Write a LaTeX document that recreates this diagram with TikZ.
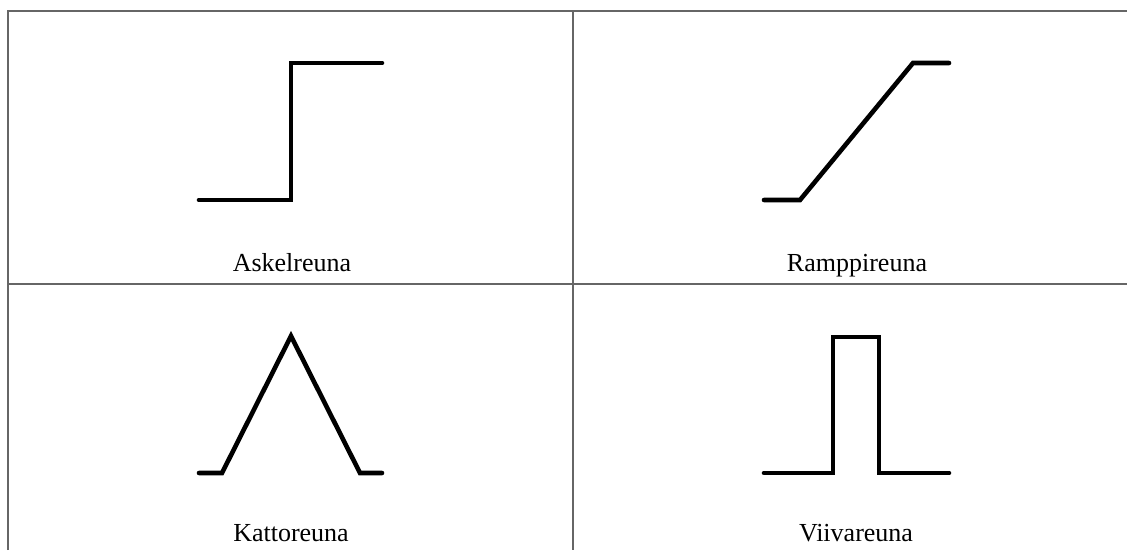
\documentclass[tikz,border=0pt]{standalone}
\usepackage{fontspec}
\setmainfont{Liberation Serif}
\tikzset{
  grid line/.style={draw=gray!80!black, line width=2pt},
  edge curve/.style={line width=4.6pt, line cap=round, line join=miter},
  edge label/.style={anchor=base, inner sep=0pt, font=\fontsize{26}{30}\selectfont}
}
\begin{document}
\begin{tikzpicture}[x=1pt,y=-1pt]
  \useasboundingbox (0,0) rectangle (1127,550);
  % table lines
  \draw[grid line] (8,550) -- (8,10.5) -- (1127,10.5);
  \draw[grid line] (8,284) -- (1127,284);
  \draw[grid line] (573,10.5) -- (573,550);
  % step
  \draw[edge curve] (199,200) -- (291,200) -- (291,63) -- (382,63);
  \node[edge label] (askel) at (292,271) {Askelreuna};
  % ramp
  \draw[edge curve] (764,200) -- (800,200) -- (913,63) -- (949,63);
  \node[edge label] (ramppi) at (857,271) {Ramppireuna};
  % roof
  \draw[edge curve] (199,473) -- (222,473) -- (291,336) -- (360,473) -- (382,473);
  \node[edge label] (katto) at (291,541) {Kattoreuna};
  % line
  \draw[edge curve] (764,473) -- (833,473) -- (833,337) -- (879,337) -- (879,473) -- (949,473);
  \node[edge label] (viiva) at (856,541) {Viivareuna};
\end{tikzpicture}
\end{document}
